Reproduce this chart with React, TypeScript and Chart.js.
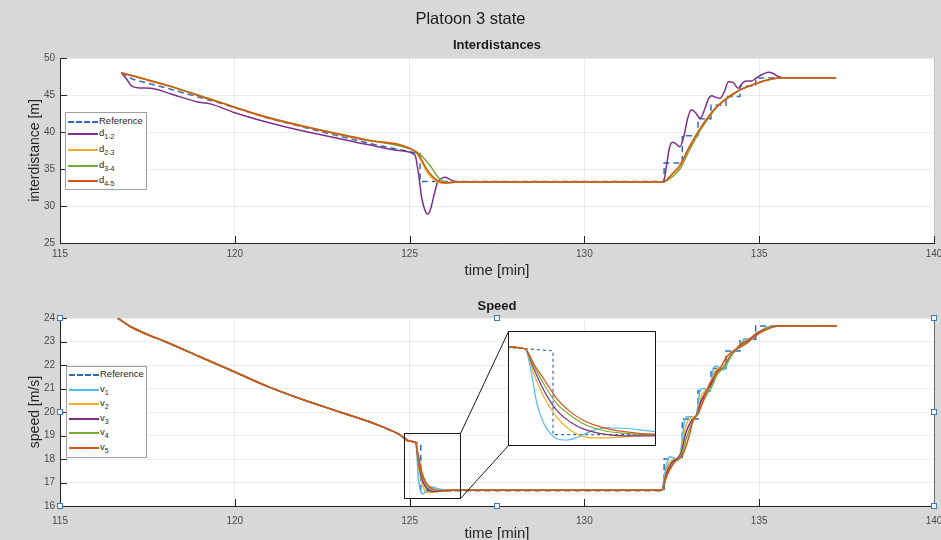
import React, { useEffect, useRef } from "react";
import { Chart, registerables } from "chart.js";
Chart.register(...registerables);

const FONT = "'Liberation Sans', Arial, Helvetica, sans-serif";
const C_REF = "#2e6db4";
const C_PURPLE = "#7e2f8e";
const C_YELLOW = "#edb120";
const C_GREEN = "#77ac30";
const C_ORANGE = "#d95319";
const C_CYAN = "#4dbeee";

// ---------- Interdistances (m) ----------
const refDistT = [116.75, 117.1, 118.0, 119.5, 121.0, 122.5, 124.0, 125.15, 125.3, 125.3, 132.28, 132.28, 132.8, 132.8, 133.25, 133.25, 133.62, 133.62, 134.05, 134.05, 134.45, 134.45, 134.9, 134.9, 137.25];
const refDistV = [48.0, 47.1, 46.0, 44.0, 41.8, 40.0, 38.3, 37.2, 37.1, 33.3, 33.3, 35.8, 35.8, 39.5, 39.5, 41.8, 41.8, 43.6, 43.6, 44.8, 44.8, 46.2, 46.2, 47.3, 47.3];

const d12T = [116.75, 116.9, 117.05, 117.3, 117.6, 118.2, 118.9, 119.3, 120.0, 120.9, 121.8, 122.8, 123.8, 124.7, 125.15, 125.25, 125.35, 125.45, 125.52, 125.6, 125.7, 125.8, 125.9, 126.01, 126.15, 126.3, 126.6, 132.26, 132.35, 132.43, 132.52, 132.62, 132.73, 132.85, 132.95, 133.07, 133.18, 133.31, 133.45, 133.55, 133.64, 133.76, 133.88, 134.0, 134.12, 134.25, 134.4, 134.52, 134.64, 134.78, 134.93, 135.1, 135.26, 135.4, 135.55, 135.7, 137.2];
const d12V = [48.0, 47.2, 46.2, 45.95, 45.9, 45.1, 44.1, 43.8, 42.6, 41.35, 40.3, 39.3, 38.3, 37.5, 36.9, 34.5, 31.0, 29.3, 28.9, 29.6, 31.5, 33.2, 33.7, 33.9, 33.6, 33.3, 33.25, 33.25, 35.5, 37.8, 38.6, 38.4, 38.0, 39.5, 41.8, 43.0, 42.6, 41.85, 43.2, 44.5, 44.9, 44.7, 44.55, 45.4, 46.8, 46.7, 45.9, 46.6, 46.9, 46.9, 47.35, 47.8, 48.06, 47.9, 47.5, 47.3, 47.3];

const dT = [116.75, 117.3, 118.05, 119.5, 120.9, 122.3, 123.77, 125.15, 125.3, 125.45, 125.58, 125.75, 125.9, 126.05, 126.2, 126.4, 132.26, 132.5, 132.73, 133.0, 133.31, 133.55, 133.78, 134.0, 134.26, 134.5, 134.74, 135.0, 135.21, 135.5, 135.7, 137.2];
const d23V = [48.0, 47.3, 46.3, 44.1, 42.0, 40.4, 38.9, 37.4, 36.4, 35.0, 34.1, 33.4, 33.1, 33.1, 33.2, 33.25, 33.25, 34.2, 35.4, 37.9, 40.4, 42.0, 43.3, 44.3, 45.2, 45.8, 46.25, 46.7, 47.0, 47.25, 47.3, 47.3];
const d34V = [48.0, 47.35, 46.35, 44.15, 42.05, 40.45, 38.95, 37.45, 37.0, 36.2, 35.5, 34.3, 33.5, 33.2, 33.2, 33.25, 33.25, 33.9, 35.0, 37.5, 40.2, 41.9, 43.3, 44.2, 45.1, 45.8, 46.25, 46.7, 47.0, 47.25, 47.3, 47.3];
const d45V = [48.0, 47.3, 46.3, 44.1, 42.0, 40.4, 38.9, 37.4, 36.6, 35.3, 34.4, 33.6, 33.2, 33.1, 33.15, 33.25, 33.25, 34.3, 35.5, 38.0, 40.5, 42.1, 43.4, 44.3, 45.2, 45.8, 46.26, 46.7, 47.0, 47.25, 47.3, 47.3];

// ---------- Speed (m/s) ----------
const declineT = [116.65, 117.0, 117.5, 118.0, 119.0, 120.0, 121.0, 122.0, 123.0, 124.0, 124.7, 125.0, 125.18];
const declineV = [24.0, 23.65, 23.3, 23.0, 22.35, 21.7, 21.05, 20.5, 20.0, 19.5, 19.05, 18.76, 18.7];

const refDropT = [125.32, 125.32, 132.28, 132.28, 132.8, 132.8, 133.25, 133.25, 133.62, 133.62, 134.05, 134.05, 134.45, 134.45, 134.9, 134.9, 137.22];
const refDropV = [18.65, 16.65, 16.65, 18.0, 18.0, 19.7, 19.7, 20.9, 20.9, 21.85, 21.85, 22.6, 22.6, 23.1, 23.1, 23.66, 23.66];

const v1DropT = [125.21, 125.24, 125.275, 125.31, 125.34, 125.39, 125.44, 125.51, 125.59, 125.675, 125.76, 125.83, 126.0, 126.3];
const v1DropV = [18.17, 17.38, 16.9, 16.66, 16.55, 16.52, 16.58, 16.73, 16.81, 16.8, 16.76, 16.72, 16.68, 16.67];
const v2DropT = [125.225, 125.275, 125.34, 125.41, 125.475, 125.54, 125.64, 125.74, 125.825, 126.0, 126.3];
const v2DropV = [18.09, 17.54, 17.06, 16.74, 16.6, 16.57, 16.58, 16.62, 16.64, 16.66, 16.67];
const dropT = [125.225, 125.275, 125.34, 125.41, 125.475, 125.575, 125.675, 125.825, 126.0, 126.3];
const v3DropV = [18.21, 17.7, 17.22, 16.94, 16.78, 16.66, 16.62, 16.62, 16.65, 16.67];
const v4DropV = [18.29, 17.85, 17.38, 17.1, 16.9, 16.74, 16.68, 16.65, 16.66, 16.67];
const v5DropV = [18.33, 17.97, 17.5, 17.18, 16.98, 16.81, 16.72, 16.66, 16.66, 16.67];

const v1RiseT = [132.21, 132.3, 132.4, 132.45, 132.55, 132.69, 132.78, 132.85, 132.93, 133.05, 133.17, 133.25, 133.31, 133.4, 133.5, 133.59, 133.65, 133.69, 133.76, 133.83, 133.97, 134.1, 134.21, 134.35, 134.45, 134.55, 134.74, 134.93, 135.05, 135.21, 135.4, 137.22];
const v1RiseV = [16.67, 17.4, 18.03, 18.1, 18.05, 17.96, 18.6, 19.5, 19.8, 19.8, 19.73, 20.3, 20.94, 21.0, 20.95, 20.87, 21.4, 21.86, 21.95, 21.93, 21.79, 22.1, 22.5, 22.64, 22.8, 23.06, 23.13, 23.35, 23.45, 23.6, 23.66, 23.66];
const riseT = [132.21, 132.35, 132.5, 132.64, 132.78, 132.9, 133.05, 133.2, 133.35, 133.5, 133.65, 133.8, 133.95, 134.1, 134.3, 134.5, 134.7, 134.9, 135.1, 135.3, 135.5, 137.22];
const v2RiseV = [16.67, 17.55, 17.95, 18.0, 18.4, 19.4, 19.75, 19.85, 20.7, 20.95, 21.4, 21.85, 21.85, 22.25, 22.6, 22.95, 23.1, 23.32, 23.5, 23.62, 23.66, 23.66];
const v3RiseV = [16.67, 17.4, 17.85, 18.0, 18.3, 19.1, 19.6, 19.85, 20.5, 20.9, 21.25, 21.75, 21.85, 22.2, 22.6, 22.9, 23.05, 23.3, 23.48, 23.6, 23.66, 23.66];
const v4RiseV = [16.67, 17.3, 17.75, 17.95, 18.2, 18.8, 19.45, 19.85, 20.3, 20.75, 21.1, 21.6, 21.85, 22.15, 22.6, 22.85, 23.0, 23.25, 23.45, 23.6, 23.66, 23.66];
const v5RiseT = [132.21, 132.35, 132.5, 132.64, 132.75, 132.83, 133.0, 133.11, 133.26, 133.4, 133.59, 133.78, 133.9, 134.07, 134.3, 134.45, 134.64, 134.85, 135.0, 135.3, 135.55, 137.22];
const v5RiseV = [16.67, 17.25, 17.7, 17.96, 18.05, 18.24, 19.0, 19.66, 19.94, 20.5, 21.22, 21.65, 21.9, 22.35, 22.64, 22.75, 22.92, 23.2, 23.35, 23.56, 23.66, 23.66];

// axis settings
const X_MIN = 115, X_MAX = 140, X_STEP = 5;
const DIST_MIN = 25, DIST_MAX = 50, DIST_STEP = 5;
const SPEED_MIN = 16, SPEED_MAX = 24, SPEED_STEP = 1;
// zoomed region (data units) and inset view
const ZOOM_X = [124.84, 126.44];
const ZOOM_Y = [16.34, 19.1];
const INSET_X = [125.1, 125.83];
const INSET_Y = [16.4, 19.1];

// layout (pixels)
const W = 941;
const TOP_H = 290;
const BOT_TOP = 290;
const BOT_H = 262;
const INSET = { left: 508, top: 331, width: 148, height: 115 };

const pts = (t: number[], v: number[]) => t.map((x, i) => ({ x, y: v[i] }));
const cat = (a: number[][]) => a.reduce((acc: number[], arr) => acc.concat(arr), []);

function ds(label: string, data: any[], color: string, extra: any = {}) {
  return {
    label, data, borderColor: color, backgroundColor: color, borderWidth: 1.5,
    pointRadius: 0, fill: false, tension: 0, cubicInterpolationMode: "monotone", ...extra,
  };
}
const refStyle = { borderDash: [6, 4], cubicInterpolationMode: "default", tension: 0 };

function distDatasets() {
  const list = [
    ds("Reference", pts(refDistT, refDistV), C_REF, refStyle),
    ds("d1-2", pts(d12T, d12V), C_PURPLE),
    ds("d2-3", pts(dT, d23V), C_YELLOW),
    ds("d3-4", pts(dT, d34V), C_GREEN),
    ds("d4-5", pts(dT, d45V), C_ORANGE),
  ];
  return list.map((d, i) => ({ ...d, order: list.length - i }));
}

function speedDatasets(width: number, dash: number[]) {
  const s = (dropT_: number[], dropV_: number[], riseT_: number[], riseV_: number[]) =>
    pts(cat([declineT, dropT_, riseT_]), cat([declineV, dropV_, riseV_]));
  const list = [
    ds("Reference", pts(declineT.concat(refDropT), declineV.concat(refDropV)), C_REF, { ...refStyle, borderDash: dash, borderWidth: width }),
    ds("v1", s(v1DropT, v1DropV, v1RiseT, v1RiseV), C_CYAN, { borderWidth: width }),
    ds("v2", s(v2DropT, v2DropV, riseT, v2RiseV), C_YELLOW, { borderWidth: width }),
    ds("v3", s(dropT, v3DropV, riseT, v3RiseV), C_PURPLE, { borderWidth: width }),
    ds("v4", s(dropT, v4DropV, riseT, v4RiseV), C_GREEN, { borderWidth: width }),
    ds("v5", s(dropT, v5DropV, v5RiseT, v5RiseV), C_ORANGE, { borderWidth: width }),
  ];
  return list.map((d, i) => ({ ...d, order: list.length - i }));
}

const plotBg = {
  id: "plotBg",
  beforeDraw(chart: any) {
    const { ctx, chartArea } = chart;
    if (!chartArea) return;
    ctx.save();
    ctx.fillStyle = "#ffffff";
    ctx.fillRect(chartArea.left, chartArea.top, chartArea.right - chartArea.left, chartArea.bottom - chartArea.top);
    ctx.restore();
  },
};

const innerTicks = {
  id: "innerTicks",
  afterDraw(chart: any) {
    const { ctx, chartArea } = chart;
    const xs = chart.scales.x, ys = chart.scales.y;
    if (!xs || !ys || !xs.options.display) return;
    ctx.save();
    ctx.strokeStyle = "#262626";
    ctx.lineWidth = 1;
    xs.ticks.forEach((t: any) => {
      const px = Math.round(xs.getPixelForValue(t.value)) + 0.5;
      ctx.beginPath(); ctx.moveTo(px, chartArea.bottom); ctx.lineTo(px, chartArea.bottom - 7); ctx.stroke();
    });
    ys.ticks.forEach((t: any) => {
      const py = Math.round(ys.getPixelForValue(t.value)) + 0.5;
      ctx.beginPath(); ctx.moveTo(chartArea.left, py); ctx.lineTo(chartArea.left + 7, py); ctx.stroke();
    });
    ctx.restore();
  },
};

const speedOverlay = {
  id: "speedOverlay",
  afterDraw(chart: any) {
    const { ctx, chartArea } = chart;
    const xs = chart.scales.x, ys = chart.scales.y;
    ctx.save();
    // right border
    ctx.strokeStyle = "#6a6a6a";
    ctx.lineWidth = 1;
    ctx.beginPath();
    ctx.moveTo(Math.round(chartArea.right) + 0.5, chartArea.top);
    ctx.lineTo(Math.round(chartArea.right) + 0.5, chartArea.bottom);
    ctx.stroke();
    // zoom rectangle
    const x0 = Math.round(xs.getPixelForValue(ZOOM_X[0])) + 0.5;
    const x1 = Math.round(xs.getPixelForValue(ZOOM_X[1])) + 0.5;
    const y0 = Math.round(ys.getPixelForValue(ZOOM_Y[1])) + 0.5;
    const y1 = Math.round(ys.getPixelForValue(ZOOM_Y[0])) + 0.5;
    ctx.strokeStyle = "#1a1a1a";
    ctx.strokeRect(x0, y0, x1 - x0, y1 - y0);
    // connectors to inset
    const il = INSET.left + 0.5, it = INSET.top - BOT_TOP + 0.5, ib = INSET.top - BOT_TOP + INSET.height - 0.5;
    ctx.beginPath();
    ctx.moveTo(x1, y0); ctx.lineTo(il, it);
    ctx.moveTo(x1, y1); ctx.lineTo(il, ib);
    ctx.stroke();
    // selection handles
    const cx = (chartArea.left + chartArea.right) / 2, cy = (chartArea.top + chartArea.bottom) / 2;
    const hs = [
      [chartArea.left, chartArea.top], [chartArea.left, cy], [chartArea.left, chartArea.bottom],
      [cx, chartArea.top], [cx, chartArea.bottom],
      [chartArea.right, chartArea.top], [chartArea.right, cy], [chartArea.right, chartArea.bottom],
    ];
    ctx.strokeStyle = "#3f7cbf";
    ctx.fillStyle = "#f4f8fc";
    hs.forEach(([hx, hy]) => {
      const rx = Math.round(hx) - 2.5, ry = Math.round(hy) - 2.5;
      ctx.fillRect(rx, ry, 5, 5);
      ctx.strokeRect(rx, ry, 5, 5);
    });
    ctx.restore();
  },
};

function mainOptions(o: {
  yMin: number; yMax: number; yStep: number; yTitle: string; padTop: number; xHeight: number; xTickPad: number; xTitlePad: number;
}) {
  return {
    animation: false,
    responsive: false,
    events: [],
    layout: { padding: { left: 0, right: 7, top: o.padTop, bottom: 0 } },
    plugins: { legend: { display: false }, tooltip: { enabled: false }, title: { display: false } },
    scales: {
      x: {
        type: "linear", min: X_MIN, max: X_MAX,
        ticks: { stepSize: X_STEP, autoSkip: false, maxRotation: 0, padding: o.xTickPad, color: "#4a4a4a", font: { family: FONT, size: 10 } },
        grid: { color: "rgba(0,0,0,0.075)", drawTicks: false },
        border: { color: "#262626", width: 1 },
        title: { display: true, text: "time [min]", color: "#262626", font: { family: FONT, size: 15 }, padding: { top: 0, bottom: o.xTitlePad } },
        afterFit: (s: any) => { s.height = o.xHeight; s.paddingLeft = 0; s.paddingRight = 0; },
      },
      y: {
        type: "linear", min: o.yMin, max: o.yMax,
        ticks: { stepSize: o.yStep, autoSkip: false, padding: 5, color: "#4a4a4a", font: { family: FONT, size: 10 } },
        grid: { color: "rgba(0,0,0,0.075)", drawTicks: false },
        border: { color: "#262626", width: 1 },
        title: { display: true, text: o.yTitle, color: "#262626", font: { family: FONT, size: 14 }, padding: { top: 27, bottom: 0 } },
        afterFit: (s: any) => { s.width = 60; s.paddingTop = 0; s.paddingBottom = 0; },
      },
    },
  };
}

function LegendBox(props: { left: number; top: number; width: number; height: number; rows: { y: number; color: string; dashed?: boolean; label: React.ReactNode }[] }) {
  return (
    <div style={{ position: "absolute", left: props.left, top: props.top, width: props.width, height: props.height, background: "#fff", border: "1px solid #a0a0a0", boxSizing: "border-box" }}>
      {props.rows.map((r, i) => (
        <React.Fragment key={i}>
          <div style={{ position: "absolute", left: 2, top: r.y - 1, width: 30, height: 0, borderTop: `2px ${r.dashed ? "dashed" : "solid"} ${r.color}` }} />
          <div style={{ position: "absolute", left: 33, top: r.y - 7, fontSize: 9.5, lineHeight: "12px", color: "#262626", whiteSpace: "nowrap", fontFamily: FONT }}>{r.label}</div>
        </React.Fragment>
      ))}
    </div>
  );
}

const sub = (main: string, s: string) => (
  <span>{main}<sub style={{ fontSize: 7, verticalAlign: "-3px", lineHeight: 0 }}>{s}</sub></span>
);

export default function App() {
  const topRef = useRef<HTMLCanvasElement>(null);
  const botRef = useRef<HTMLCanvasElement>(null);
  const insRef = useRef<HTMLCanvasElement>(null);

  useEffect(() => {
    const charts: Chart[] = [];
    if (topRef.current) {
      charts.push(new Chart(topRef.current, {
        type: "line",
        data: { datasets: distDatasets() as any },
        options: mainOptions({ yMin: DIST_MIN, yMax: DIST_MAX, yStep: DIST_STEP, yTitle: "interdistance [m]", padTop: 58, xHeight: TOP_H - 243, xTickPad: 5, xTitlePad: 10 }) as any,
        plugins: [plotBg, innerTicks],
      }));
    }
    if (botRef.current) {
      charts.push(new Chart(botRef.current, {
        type: "line",
        data: { datasets: speedDatasets(1.5, [6, 4]) as any },
        options: mainOptions({ yMin: SPEED_MIN, yMax: SPEED_MAX, yStep: SPEED_STEP, yTitle: "speed [m/s]", padTop: 318 - BOT_TOP, xHeight: BOT_TOP + BOT_H - 506, xTickPad: 9, xTitlePad: 9 }) as any,
        plugins: [plotBg, innerTicks, speedOverlay],
      }));
    }
    if (insRef.current) {
      charts.push(new Chart(insRef.current, {
        type: "line",
        data: { datasets: speedDatasets(1.2, [3, 3]) as any },
        options: {
          animation: false, responsive: false, events: [],
          layout: { padding: 0 },
          plugins: { legend: { display: false }, tooltip: { enabled: false } },
          scales: {
            x: { type: "linear", min: INSET_X[0], max: INSET_X[1], display: false },
            y: { type: "linear", min: INSET_Y[0], max: INSET_Y[1], display: false },
          },
        } as any,
      }));
    }
    return () => charts.forEach((c) => c.destroy());
  }, []);

  return (
    <div style={{ position: "absolute", left: 0, top: 0, width: W, height: 540, overflow: "hidden", background: "#d8d8d8", fontFamily: FONT }}>
      <canvas ref={topRef} width={W} height={TOP_H} style={{ position: "absolute", left: 0, top: 0 }} />
      <canvas ref={botRef} width={W} height={BOT_H} style={{ position: "absolute", left: 0, top: BOT_TOP }} />
      <div style={{ position: "absolute", left: 0, top: 8, width: W, textAlign: "center", fontSize: 16.5, lineHeight: "20px", color: "#1a1a1a" }}>Platoon 3 state</div>
      <div style={{ position: "absolute", left: 60, top: 37, width: 874, textAlign: "center", fontSize: 13, fontWeight: "bold", lineHeight: "16px", color: "#1a1a1a" }}>Interdistances</div>
      <div style={{ position: "absolute", left: 60, top: 298, width: 874, textAlign: "center", fontSize: 13, fontWeight: "bold", lineHeight: "16px", color: "#1a1a1a" }}>Speed</div>
      <LegendBox left={65} top={112} width={82} height={78} rows={[
        { y: 9, color: C_REF, dashed: true, label: "Reference" },
        { y: 21, color: C_PURPLE, label: sub("d", "1-2") },
        { y: 37, color: C_YELLOW, label: sub("d", "2-3") },
        { y: 53, color: C_GREEN, label: sub("d", "3-4") },
        { y: 68, color: C_ORANGE, label: sub("d", "4-5") },
      ]} />
      <LegendBox left={66} top={366} width={81} height={92} rows={[
        { y: 8, color: C_REF, dashed: true, label: "Reference" },
        { y: 23, color: C_CYAN, label: sub("v", "1") },
        { y: 37, color: C_YELLOW, label: sub("v", "2") },
        { y: 52, color: C_PURPLE, label: sub("v", "3") },
        { y: 66, color: C_GREEN, label: sub("v", "4") },
        { y: 81, color: C_ORANGE, label: sub("v", "5") },
      ]} />
      <div style={{ position: "absolute", left: INSET.left, top: INSET.top, width: INSET.width, height: INSET.height, border: "1px solid #1a1a1a", boxSizing: "border-box", background: "#fff" }}>
        <canvas ref={insRef} width={INSET.width - 2} height={INSET.height - 2} style={{ display: "block" }} />
      </div>
    </div>
  );
}
